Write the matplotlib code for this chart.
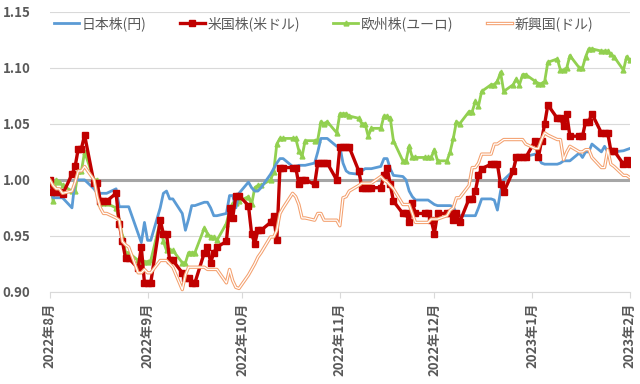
import numpy as np
import pandas as pd
import matplotlib
matplotlib.use('Agg')
import matplotlib.pyplot as plt
from matplotlib.lines import Line2D
from matplotlib.legend_handler import HandlerBase

plt.rcParams['font.family'] = ['Noto Sans CJK JP', 'DejaVu Sans']

# 営業日 (2022/8/1 - 2023/2/1)
dates = pd.bdate_range('2022-08-01', '2023-02-01')

# 日本株(円)
japan = [
    1.000, 0.984, 0.984, 0.984, 0.984,
    0.975, 1.000, 1.000, 1.000, 1.000,
    0.992, 0.988, 0.988, 0.988, 0.988,
    0.992, 0.976, 0.976, 0.976, 0.976,
    0.952, 0.944, 0.962, 0.946, 0.946,
    0.975, 0.988, 0.990, 0.983, 0.983,
    0.970, 0.955, 0.965, 0.977, 0.977,
    0.980, 0.980, 0.975, 0.968, 0.968,
    0.970, 0.986, 0.986, 0.975, 0.988,
    0.998, 0.993, 0.990, 0.990, 0.993,
    1.005, 1.010, 1.015, 1.019, 1.019,
    1.012, 1.012, 1.013, 1.013, 1.013,
    1.015, 1.025, 1.037, 1.037, 1.037,
    1.030, 1.030, 1.015, 1.008, 1.006,
    1.005, 1.008, 1.010, 1.010, 1.010,
    1.012, 1.019, 1.019, 1.010, 1.004,
    1.003, 1.000, 0.990, 0.985, 0.982,
    0.982, 0.982, 0.980, 0.978, 0.977,
    0.977, 0.977, 0.976, 0.970, 0.968,
    0.968, 0.968, 0.968, 0.975, 0.983,
    0.983, 0.982, 0.973, 0.990, 1.000,
    1.008, 1.021, 1.021, 1.021, 1.021,
    1.023, 1.020, 1.015, 1.014, 1.014,
    1.014, 1.015, 1.017, 1.017, 1.017,
    1.024, 1.020, 1.025, 1.025, 1.032,
    1.025, 1.030, 1.025, 1.025, 1.025,
    1.026, 1.027, 1.028,
]

# 米国株(米ドル)
us = [
    1.000, 0.989, 0.989, 0.989, 0.987,
    1.005, 1.012, 1.028, 1.028, 1.040,
    0.997, 0.997, 0.981, 0.981, 0.981,
    0.988, 0.961, 0.945, 0.930, 0.930,
    0.921, 0.940, 0.908, 0.908, 0.908,
    0.964, 0.952, 0.952, 0.928, 0.928,
    0.917, 0.912, 0.912, 0.908, 0.908,
    0.935, 0.940, 0.926, 0.935, 0.940,
    0.945, 0.975, 0.966, 0.986, 0.986,
    0.977, 0.952, 0.943, 0.955, 0.955,
    0.962, 0.968, 0.946, 1.011, 1.011,
    1.011, 1.011, 0.996, 1.000, 1.000,
    0.996, 1.015, 1.015, 1.015, 1.015,
    1.000, 1.029, 1.029, 1.029, 1.029,
    1.008, 0.993, 0.993, 0.993, 0.993,
    0.993, 1.004, 1.011, 0.996, 0.981,
    0.970, 0.970, 0.962, 0.979, 0.970,
    0.970, 0.970, 0.964, 0.952, 0.970,
    0.970, 0.970, 0.964, 0.970, 0.962,
    0.983, 0.983, 0.990, 1.004, 1.010,
    1.014, 1.014, 1.014, 0.996, 0.989,
    1.008, 1.020, 1.020, 1.020, 1.020,
    1.035, 1.020, 1.035, 1.050, 1.067,
    1.055, 1.055, 1.048, 1.059, 1.039,
    1.039, 1.039, 1.052, 1.052, 1.059,
    1.042, 1.042, 1.042, 1.026, 1.026,
    1.014, 1.018, 1.014,
]

# 欧州株(ユーロ)
europe = [
    1.000, 0.981, 1.000, 0.998, 0.995,
    0.990, 0.990, 1.008, 1.008, 1.025,
    1.000, 1.000, 0.979, 0.979, 0.979,
    0.975, 0.964, 0.950, 0.935, 0.935,
    0.928, 0.920, 0.927, 0.927, 0.928,
    0.963, 0.945, 0.937, 0.937, 0.937,
    0.926, 0.926, 0.935, 0.935, 0.935,
    0.957, 0.952, 0.949, 0.949, 0.946,
    0.961, 0.973, 0.979, 0.979, 0.981,
    0.985, 0.978, 0.993, 0.995, 0.995,
    1.000, 1.007, 1.032, 1.037, 1.037,
    1.037, 1.037, 1.026, 1.021, 1.035,
    1.035, 1.036, 1.052, 1.050, 1.052,
    1.042, 1.059, 1.059, 1.059, 1.057,
    1.055, 1.050, 1.050, 1.039, 1.046,
    1.046, 1.057, 1.057, 1.055, 1.035,
    1.017, 1.017, 1.030, 1.020, 1.020,
    1.020, 1.020, 1.020, 1.027, 1.017,
    1.017, 1.025, 1.037, 1.052, 1.050,
    1.061, 1.061, 1.070, 1.066, 1.079,
    1.085, 1.085, 1.088, 1.096, 1.079,
    1.085, 1.090, 1.085, 1.094, 1.094,
    1.088, 1.086, 1.086, 1.088, 1.105,
    1.108, 1.098, 1.098, 1.100, 1.111,
    1.100, 1.100, 1.110, 1.117, 1.117,
    1.115, 1.115, 1.115, 1.112, 1.110,
    1.098, 1.110, 1.107,
]

# 新興国(ドル)
emerging = [
    1.000, 0.995, 0.992, 0.992, 0.988,
    0.990, 0.998, 1.008, 1.008, 1.012,
    1.000, 0.985, 0.975, 0.970, 0.970,
    0.966, 0.964, 0.945, 0.942, 0.940,
    0.917, 0.917, 0.920, 0.917, 0.917,
    0.928, 0.928, 0.928, 0.925, 0.922,
    0.902, 0.915, 0.922, 0.922, 0.922,
    0.922, 0.920, 0.920, 0.920, 0.920,
    0.908, 0.920, 0.910, 0.904, 0.903,
    0.915, 0.920, 0.925, 0.931, 0.935,
    0.949, 0.949, 0.955, 0.970, 0.975,
    0.988, 0.985, 0.978, 0.966, 0.966,
    0.964, 0.970, 0.970, 0.964, 0.964,
    0.964, 0.959, 0.984, 0.985, 0.990,
    0.995, 0.997, 0.997, 0.997, 0.997,
    1.003, 1.000, 0.998, 0.995, 0.992,
    0.978, 0.978, 0.978, 0.970, 0.962,
    0.962, 0.962, 0.965, 0.965, 0.965,
    0.968, 0.973, 0.975, 0.984, 0.984,
    0.995, 1.011, 1.011, 1.015, 1.023,
    1.023, 1.032, 1.032, 1.034, 1.036,
    1.036, 1.036, 1.036, 1.036, 1.032,
    1.028, 1.028, 1.036, 1.042, 1.040,
    1.036, 1.036, 1.018, 1.025, 1.030,
    1.025, 1.025, 1.027, 1.027, 1.020,
    1.011, 1.011, 1.027, 1.014, 1.012,
    1.004, 1.004, 1.002,
]

month_ticks = pd.date_range('2022-08-01', '2023-02-01', freq='MS')
month_labels = [f'{d.year}年{d.month}月' for d in month_ticks]

ORANGE = '#F4A06E'


class DoubleLine(HandlerBase):
    # 新興国の凡例は白抜きの二重線
    def create_artists(self, legend, orig, xd, yd, w, h, fs, trans):
        a = Line2D([xd, xd + w], [yd + h / 2] * 2, color=ORANGE, lw=2.4, transform=trans)
        b = Line2D([xd, xd + w], [yd + h / 2] * 2, color='white', lw=0.9, transform=trans)
        return [a, b]


fig = plt.figure(figsize=(6.4, 3.84), dpi=100)
ax = fig.add_axes([0.078, 0.24, 0.906, 0.729])

ax.axhline(1.0, color='#A6A6A6', lw=2.2, zorder=1)

l1, = ax.plot(dates, japan, color='#5B9BD5', lw=2.0, zorder=3, label='日本株(円)')
l2, = ax.plot(dates, us, color='#C00000', lw=2.4, marker='s', markersize=4,
              zorder=4, label='米国株(米ドル)')
l3, = ax.plot(dates, europe, color='#92D050', lw=2.0, marker='^', markersize=3.5,
              zorder=2, label='欧州株(ユーロ)')
ax.plot(dates, emerging, color=ORANGE, lw=2.4, zorder=5)
ax.plot(dates, emerging, color='white', lw=0.9, zorder=6)
l4 = Line2D([], [], color=ORANGE, label='新興国(ドル)')

ax.set_ylim(0.90, 1.15)
ax.set_yticks(np.arange(0.90, 1.151, 0.05))
ax.yaxis.set_major_formatter(plt.FormatStrFormatter('%.2f'))
ax.set_xlim(pd.Timestamp('2022-08-01'), pd.Timestamp('2023-02-01'))
ax.set_xticks(month_ticks)
ax.set_xticklabels(month_labels, rotation=90)

ax.grid(axis='y', color='#D9D9D9', lw=0.8)
ax.set_axisbelow(True)
for s in ['top', 'right', 'left']:
    ax.spines[s].set_visible(False)
ax.spines['bottom'].set_color('#D9D9D9')
ax.tick_params(axis='y', length=0, labelsize=9.5, labelcolor='#595959', pad=14)
ax.tick_params(axis='x', length=4, color='#D9D9D9', labelsize=9.5, labelcolor='#595959')
for t in ax.get_xticklabels() + ax.get_yticklabels():
    t.set_fontweight('bold')

ax.legend(handles=[l1, l2, l3, l4], handler_map={l4: DoubleLine()},
          loc='upper left', bbox_to_anchor=(-0.015, 1.03), ncol=4, frameon=False,
          fontsize=10, handlelength=1.8, handletextpad=0.2, columnspacing=2.4,
          labelcolor='#595959')

fig.savefig('out.png', dpi=100)
